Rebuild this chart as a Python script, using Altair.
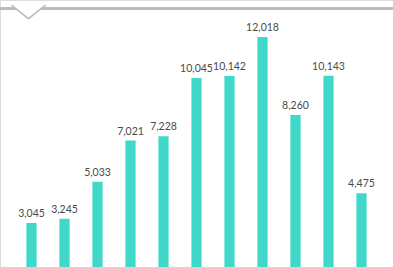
import altair as alt
import pandas as pd

labels = ["1", "2", "3", "4", "5", "6", "7", "8", "9", "10", "11"]
values = [3045, 3245, 5033, 7021, 7228, 10045, 10142, 12018, 8260, 10143, 4475]

df = pd.DataFrame({"cat": labels, "value": values})

x = alt.X("cat:N", sort=labels, axis=None,
          scale=alt.Scale(paddingInner=0.69, paddingOuter=0.8))
y_scale = alt.Scale(domain=[923, 13803], zero=False, nice=False)

bars = alt.Chart(df).mark_bar(color="#40d8c9", clip=True).encode(
    x=x,
    y=alt.Y("value:Q", scale=y_scale, axis=None),
    y2=alt.datum(0),
)

text = alt.Chart(df).mark_text(
    baseline="bottom", dy=-4, fontSize=10.5, color="#4a4a4a", font="Lato"
).encode(
    x=x,
    y=alt.Y("value:Q", scale=y_scale, axis=None),
    text=alt.Text("value:Q", format=","),
)

top_line = alt.Chart(df).mark_rule(color="#bbbbbb", strokeWidth=1.5).encode(
    x=alt.value(0), x2=alt.value(393), y=alt.value(8.5)
)

chevron = alt.Chart(pd.DataFrame({"k": [0]})).mark_point(
    shape="M -1 -0.2 L 0 0.6 L 1 -0.2",
    size=1156, filled=True, fill="white", stroke="#bbbbbb", strokeWidth=1.5, opacity=1,
).encode(x=alt.value(28.5), y=alt.value(8.5))

chart = alt.layer(top_line, chevron, bars, text).properties(
    width=393, height=267, padding=0, autosize=alt.AutoSizeParams(type="none")
).configure_view(stroke=None).configure(background="white")

chart.save("out.html", embed_options={"renderer": "svg", "actions": False})
